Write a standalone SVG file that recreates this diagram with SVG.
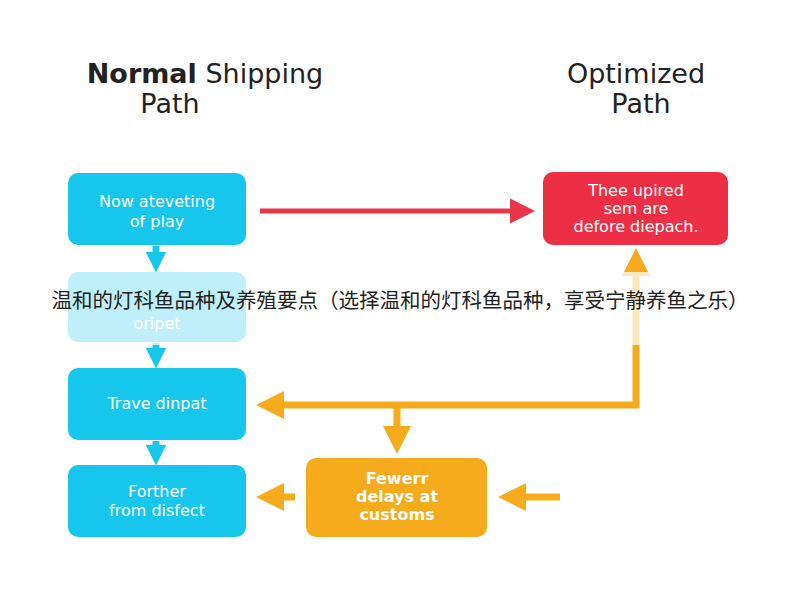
<svg xmlns="http://www.w3.org/2000/svg" width="800" height="600" viewBox="0 0 800 600">
<defs><style>
.title{font-family:"DejaVu Sans","Liberation Sans",sans-serif;font-size:27px;fill:#222}
.lbl{font-family:"DejaVu Sans","Liberation Sans",sans-serif;font-size:16px;fill:#fff;text-anchor:middle}
.blue{fill:#16c6ec}
.or{stroke:#f5ab1b;stroke-width:7;fill:none}
</style>
<marker id="ao" markerWidth="4" markerHeight="4" refX="2" refY="2" orient="auto" markerUnits="strokeWidth"><path d="M0,0L4,2L0,4z" fill="#f5ab1b"/></marker>
<marker id="ar" markerWidth="5" markerHeight="5" refX="2" refY="2.5" orient="auto" markerUnits="strokeWidth"><path d="M0,0L5,2.5L0,5z" fill="#e8354a"/></marker>
<marker id="ab" markerWidth="3" markerHeight="3" refX="1.5" refY="1.5" orient="auto" markerUnits="strokeWidth"><path d="M0,0L3,1.5L0,3z" fill="#16c6ec"/></marker>
</defs>
<rect width="800" height="600" fill="#fff"/>
<text class="title" x="205" y="83" text-anchor="middle"><tspan font-weight="bold">Normal</tspan> Shipping</text>
<text class="title" x="170" y="113" text-anchor="middle">Path</text>
<text class="title" x="636" y="83" text-anchor="middle">Optimized</text>
<text class="title" x="641" y="113" text-anchor="middle">Path</text>
<g id="connectors">
<line x1="260" y1="211" x2="520" y2="211" stroke="#e8354a" stroke-width="5" marker-end="url(#ar)"/>
<line x1="156" y1="246" x2="156" y2="262" stroke="#16c6ec" stroke-width="7" marker-end="url(#ab)"/>
<line x1="156" y1="343" x2="156" y2="358" stroke="#16c6ec" stroke-width="7" marker-end="url(#ab)"/>
<line x1="156" y1="441" x2="156" y2="455" stroke="#16c6ec" stroke-width="7" marker-end="url(#ab)"/>
<polyline class="or" points="636,270 636,405 270,405" marker-end="url(#ao)"/>
<line class="or" x1="636" y1="275" x2="636" y2="262" marker-end="url(#ao)"/>
<line class="or" x1="397" y1="405" x2="397" y2="440" marker-end="url(#ao)"/>
<line class="or" x1="295" y1="497" x2="270" y2="497" marker-end="url(#ao)"/>
<line class="or" x1="560" y1="497" x2="512" y2="497" marker-end="url(#ao)"/>
</g>
<g id="n1"><rect class="blue" x="68" y="173" width="178" height="72" rx="10"/><text class="lbl" x="157" y="207">Now ateveting</text><text class="lbl" x="157" y="227">of play</text></g>
<g id="n2"><rect class="blue" x="68" y="272" width="178" height="70" rx="10"/><text class="lbl" x="157" y="329">oripet</text></g>
<g id="n3"><rect class="blue" x="68" y="368" width="178" height="72" rx="10"/><text class="lbl" x="157" y="409">Trave dinpat</text></g>
<g id="n4"><rect class="blue" x="68" y="465" width="178" height="72" rx="10"/><text class="lbl" x="157" y="497">Forther</text><text class="lbl" x="157" y="516">from disfect</text></g>
<g id="n5"><rect x="543" y="172" width="185" height="73" rx="10" fill="#ec2f45"/><text class="lbl" x="636" y="196" font-size="13">Thee upired</text><text class="lbl" x="636" y="214" font-size="13">sem are</text><text class="lbl" x="636" y="232" font-size="13">defore diepach.</text></g>
<g id="n6"><rect x="306" y="458" width="181" height="79" rx="10" fill="#f5ab1b"/><text class="lbl" x="397" y="484" font-weight="bold" font-size="17">Fewerr</text><text class="lbl" x="397" y="502" font-weight="bold" font-size="17">delays at</text><text class="lbl" x="397" y="520" font-weight="bold" font-size="17">customs</text></g>
<rect x="0" y="272" width="800" height="73" fill="#fff" opacity="0.72"/>
<text x="400" y="308" text-anchor="middle" font-size="20.5" fill="#222" font-family="'Noto Sans CJK SC',sans-serif">温和的灯科鱼品种及养殖要点（选择温和的灯科鱼品种，享受宁静养鱼之乐）</text>
</svg>
